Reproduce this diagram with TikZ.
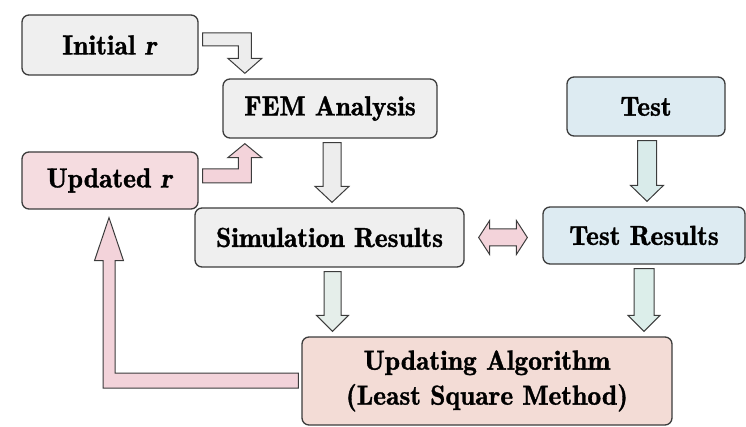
\documentclass[tikz,border=0pt]{standalone}
\usepackage{fontspec}
\newfontfamily\tnr{lmromandemi10-regular.otf}[ItalicFont=lmromandemi10-oblique.otf, FakeBold=1.2]
\usetikzlibrary{calc}
\definecolor{bordc}{HTML}{3C3C3C}
\definecolor{grayfill}{HTML}{EFEFEF}
\definecolor{pinkfill}{HTML}{F5DCE0}
\definecolor{bluefill}{HTML}{DDEBF2}
\definecolor{algfill}{HTML}{F3DCD6}
\definecolor{arrgray}{HTML}{EDEDED}
\definecolor{arrpink}{HTML}{F3D3DA}
\definecolor{arrblue}{HTML}{D9EBEA}
\definecolor{arrgreen}{HTML}{E5EEEA}
\definecolor{arrgreentwo}{HTML}{DCEEEA}
\newcommand\dnarrow[6]{%
  \draw[barrow,fill=#1] let \p1=($(#2)+(#4,0)$), \p2=(#3) in
    (\x1-#5pt,\y1-4pt) -- (\x1+#5pt,\y1-4pt) -- (\x1+#5pt,\y2+21pt) --
    (\x1+#6pt,\y2+21pt) -- (\x1,\y2+5pt) -- (\x1-#6pt,\y2+21pt) --
    (\x1-#5pt,\y2+21pt) -- cycle;}
\begin{document}
\begin{tikzpicture}[x=1pt,y=-1pt,
  box/.style={draw=bordc, line width=1.3pt, rounded corners=7pt, inner sep=0pt,
    font=\tnr\fontsize{27.5}{35}\selectfont, align=center},
  barrow/.style={draw=bordc, line width=1pt, line join=miter}]
\useasboundingbox (0,0) rectangle (746,427);
\node[box, fill=grayfill, minimum width=176pt, minimum height=60pt] (init) at (110,45) {Initial \textit{r}};
\node[box, fill=grayfill, minimum width=214pt, minimum height=59pt] (fem) at (330,108.5) {FEM Analysis};
\node[box, fill=pinkfill, minimum width=176pt, minimum height=57pt] (upd) at (110,180.5) {Updated \textit{r}};
\node[box, fill=bluefill, minimum width=158pt, minimum height=59pt] (test) at (646,106.5) {Test};
\node[box, fill=grayfill, minimum width=269pt, minimum height=59pt] (sim) at (329.5,237.5) {Simulation Results};
\node[box, fill=bluefill, minimum width=202pt, minimum height=57pt] (tres) at (644,235.5) {Test Results};
\node[box, fill=algfill, minimum width=370pt, minimum height=88pt] (alg) at (487,381) {Updating Algorithm\\(Least Square Method)};
% Initial r -> FEM
\draw[barrow,fill=arrgray] let \p1=(init.east), \p2=(fem.north west) in
  (\x1+4pt,\y1+12pt) -- (\x2+29pt,\y1+12pt) -- (\x2+29pt,\y2+20pt) -- (\x2+39.5pt,\y2+20pt) --
  (\x2+22.5pt,\y2+5pt) -- (\x2+5.5pt,\y2+20pt) -- (\x2+16pt,\y2+20pt) -- (\x2+16pt,\y1-1pt) --
  (\x1+4pt,\y1-1pt) -- cycle;
% Updated r -> FEM
\draw[barrow,fill=arrpink] let \p1=(upd.east), \p2=(fem.south west) in
  (\x1+4pt,\y1+11.5pt) -- (\x2+16pt,\y1+11.5pt) -- (\x2+16pt,\y2-19pt) -- (\x2+5.5pt,\y2-19pt) --
  (\x2+22.5pt,\y2-5pt) -- (\x2+39.5pt,\y2-19pt) -- (\x2+29pt,\y2-19pt) -- (\x2+29pt,\y1-2.5pt) --
  (\x1+4pt,\y1-2.5pt) -- cycle;
% vertical arrows
\dnarrow{arrgray}{fem.south}{sim.north}{2}{9}{17}
\dnarrow{arrblue}{test.south}{tres.north}{1}{9.5}{16.5}
\dnarrow{arrgreen}{sim.south}{alg.north}{3}{8.5}{16}
\dnarrow{arrgreentwo}{tres.south}{alg.north}{0}{10}{16}
% double arrow
\draw[barrow,fill=arrpink] let \p1=(sim.east), \p2=(tres.west) in
  (\x1+14pt,\y1) -- (\x1+25pt,\y1+17pt) -- (\x1+25pt,\y1+8.5pt) -- (\x2-26pt,\y1+8.5pt) --
  (\x2-26pt,\y1+17pt) -- (\x2-15pt,\y1) -- (\x2-26pt,\y1-17pt) -- (\x2-26pt,\y1-8.5pt) --
  (\x1+25pt,\y1-8.5pt) -- (\x1+25pt,\y1-17pt) -- cycle;
% feedback
\draw[barrow,fill=arrpink] let \p1=(alg.west), \p2=(upd.south) in
  (\x1-3pt,\y1+8pt) -- (\x2+5pt,\y1+8pt) -- (\x2+5pt,\y2-51pt) -- (\x2+13.5pt,\y2-51pt) --
  (\x2-1pt,\y2-8pt) -- (\x2-15.5pt,\y2-51pt) -- (\x2-7pt,\y2-51pt) -- (\x2-7pt,\y1-7pt) --
  (\x1-3pt,\y1-7pt) -- cycle;
\end{tikzpicture}
\end{document}
